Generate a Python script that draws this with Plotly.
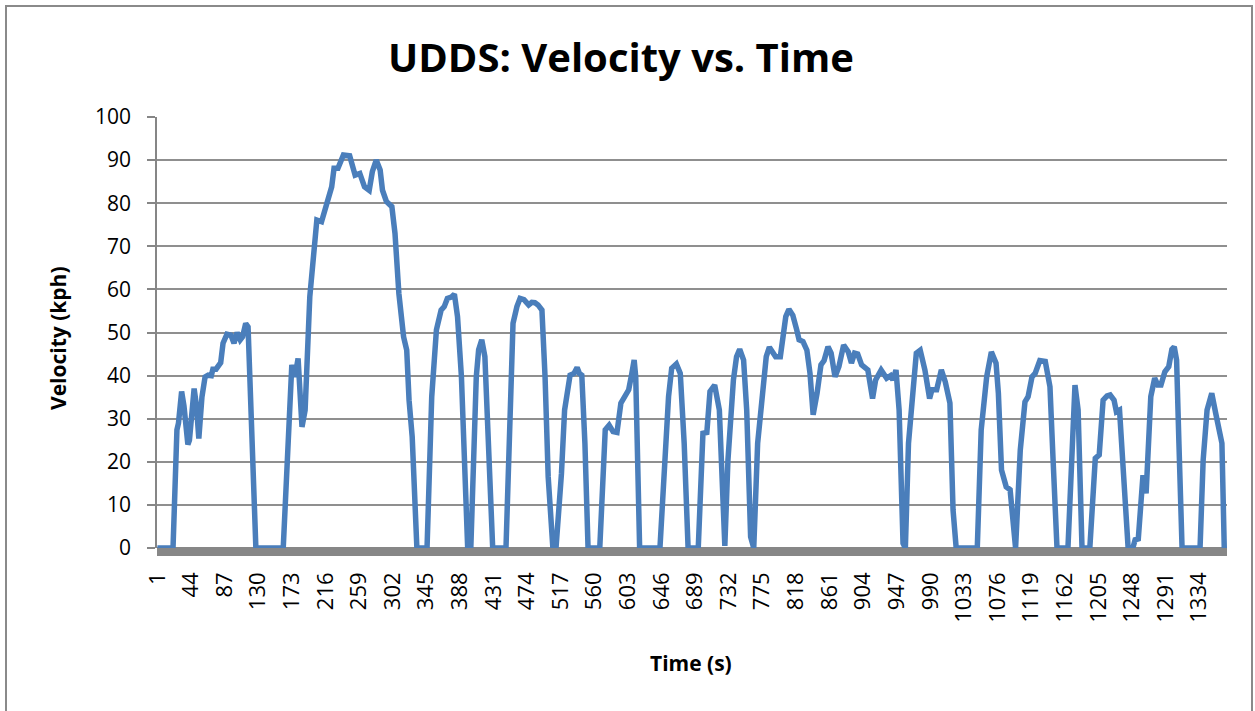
import plotly.graph_objects as go

# Keypoints (time in s, velocity in kph)
time_s = [1, 21, 26, 28, 32, 35, 40, 42, 48, 51, 54, 58, 62, 66, 70, 72, 76, 79, 82, 85,
          90, 95, 99, 103, 107, 110, 114, 117, 124, 127, 162, 173, 177, 181, 186, 190, 196, 200, 205, 211,
          216, 224, 227, 232, 239, 247, 254, 260, 266, 272, 276, 281, 286, 289, 294, 301, 305, 310, 316, 320,
          323, 327, 333, 346, 352, 358, 364, 368, 372, 377, 381, 385, 390, 398, 402, 409, 412, 416, 420, 424,
          430, 447, 452, 456, 461, 465, 470, 476, 480, 484, 488, 493, 497, 501, 507, 511, 518, 522, 529, 534,
          538, 541, 544, 548, 552, 567, 574, 579, 584, 589, 594, 599, 604, 608, 611, 613, 618, 644, 650, 655,
          659, 665, 670, 675, 680, 693, 699, 704, 708, 714, 720, 724, 727, 731, 738, 742, 746, 751, 755, 760,
          764, 769, 772, 776, 780, 784, 789, 792, 798, 802, 805, 809, 814, 819, 822, 827, 832, 836, 840, 845,
          850, 854, 859, 863, 868, 873, 879, 885, 889, 893, 897, 902, 910, 916, 920, 927, 934, 939, 942, 946,
          950, 955, 958, 962, 966, 972, 977, 983, 989, 992, 998, 1004, 1009, 1015, 1019, 1023, 1050, 1055, 1062, 1068,
          1074, 1077, 1081, 1087, 1092, 1095, 1099, 1105, 1111, 1115, 1120, 1124, 1130, 1137, 1143, 1147, 1152, 1166, 1171, 1175,
          1179, 1184, 1194, 1201, 1206, 1211, 1216, 1220, 1225, 1228, 1232, 1237, 1241, 1243, 1249, 1252, 1256, 1260, 1262, 1266,
          1269, 1272, 1277, 1281, 1285, 1290, 1295, 1299, 1302, 1305, 1308, 1312, 1335, 1339, 1344, 1350, 1355, 1363, 1366, 1369]
velocity_kph = [0, 0, 27.4, 29, 36.3, 33, 24, 25, 37, 33, 25.4, 35, 39.7, 40.1, 40, 41.5, 41.5, 42.1, 43, 47.5,
                49.6, 49.4, 47.5, 50, 48.3, 49, 52.1, 51.3, 16.5, 0, 0, 42.5, 39.7, 44, 28.1, 32, 58.3, 66.8, 76.1, 75.7,
                79, 83.8, 88.1, 88.1, 91.2, 91, 86.5, 86.9, 83.8, 83, 87.3, 90, 87.7, 83, 80.4, 79.2, 73, 59, 49, 45.9,
                34.3, 25.8, 0, 0, 35.1, 50.6, 55.2, 56, 57.9, 58.2, 58.9, 53.7, 39.7, 0, 0, 39.7, 46, 48.3, 44.4, 28.1,
                0, 0, 32, 52.1, 56, 57.9, 57.6, 56.4, 57, 56.9, 56.4, 55.2, 39.7, 16.5, 0, 0, 17.3, 32, 40.1, 40.5,
                41.9, 40.5, 40.1, 24.3, 0, 0, 27.4, 28.5, 27, 26.8, 33.6, 35.5, 36.7, 40.5, 43.6, 39.7, 0, 0, 20.4, 35.1,
                41.7, 42.7, 40.5, 24.3, 0, 0, 26.6, 26.8, 36.3, 37.8, 32, 10.4, 0.5, 20.4, 39, 44.4, 46.1, 43.6, 32, 2.6,
                0, 24.3, 30.5, 38.2, 44.4, 46.6, 45.5, 44.4, 44.4, 49, 53.7, 55.4, 54, 50.6, 48.3, 47.9, 45.9, 40.5, 30.9, 35.9,
                42.5, 43.5, 46.7, 45.2, 39.7, 42.1, 47.1, 45.5, 42.9, 45.2, 45, 42.5, 41.3, 34.7, 39, 41.3, 39.4, 40, 39, 41.3,
                32, 1.1, 0, 24.3, 34.3, 45.2, 45.9, 41.3, 34.7, 36.7, 36.7, 41.3, 38.6, 33.6, 8.8, 0, 0, 27.4, 39.7, 45.5,
                42.9, 35.9, 18.1, 14.2, 13.5, 7.3, 0, 22.7, 33.9, 35.1, 39.7, 40.5, 43.5, 43.3, 37.4, 20.4, 0, 0, 24.3, 37.8,
                32, 0, 0, 20.8, 21.6, 34.3, 35.3, 35.5, 34.3, 31.6, 32, 16.5, 2.6, 0, 0, 1.9, 2.1, 12.7, 16.9, 12.7,
                24.3, 35.1, 39.4, 37.8, 37.8, 40.9, 42.1, 46.1, 46.7, 43.6, 24.3, 0, 0, 20.4, 32, 35.9, 31.3, 24.3, 0, 0]

x_ticks = list(range(1, 1370, 43))
y_ticks = [0, 10, 20, 30, 40, 50, 60, 70, 80, 90, 100]

W, H = 1255, 711
L, R, T, B = 157, 1227, 117, 548
PW, PH = R - L, B - T


def px(x):
    return (x - L) / PW


def py(y):
    return (B - y) / PH


fig = go.Figure()
fig.add_trace(go.Scatter(
    x=time_s, y=velocity_kph, mode="lines",
    line=dict(color="#4A7EBB", width=5.5),
    showlegend=False, hoverinfo="x+y",
))

fig.update_layout(
    width=W, height=H,
    margin=dict(l=L, r=W - R, t=T, b=H - B, pad=0),
    paper_bgcolor="white", plot_bgcolor="white",
    font=dict(family="Open Sans, Liberation Sans, sans-serif", color="black"),
    xaxis=dict(
        range=[0.5, 1369.5], tickvals=x_ticks, ticktext=[str(v) for v in x_ticks],
        tickangle=-90, showgrid=False, zeroline=False, showline=False,
        ticks="", tickfont=dict(size=22, family="Open Sans"), ticklabelstandoff=19,
    ),
    yaxis=dict(
        range=[0, 100], tickvals=y_ticks, showgrid=True, gridcolor="#8f8f8f", gridwidth=2,
        zeroline=False, showline=True, linecolor="#868686", linewidth=1.5,
        ticks="outside", ticklen=8, tickcolor="#868686", tickwidth=1.5,
        tickfont=dict(size=21, family="Open Sans"), ticklabelstandoff=12,
    ),
    shapes=[
        dict(type="line", xref="paper", yref="paper", x0=0, x1=1,
             y0=py(551.5), y1=py(551.5), line=dict(color="#878787", width=9), layer="between"),
        dict(type="rect", xref="paper", yref="paper", x0=px(6), x1=px(1252),
             y0=py(716), y1=py(6), line=dict(color="#8a8a8a", width=2), layer="below"),
    ],
    annotations=[
        dict(text="<b>UDDS: Velocity vs. Time</b>", xref="paper", yref="paper",
             x=px(621), y=py(56), xanchor="center", yanchor="middle", showarrow=False,
             font=dict(size=40, family="Open Sans", color="black")),
        dict(text="<b>Velocity (kph)</b>", xref="paper", yref="paper",
             x=px(58), y=py(338), xanchor="center", yanchor="middle", showarrow=False,
             textangle=-90, font=dict(size=21, family="Open Sans", color="black")),
        dict(text="<b>Time (s)</b>", xref="paper", yref="paper",
             x=px(691), y=py(663), xanchor="center", yanchor="middle", showarrow=False,
             font=dict(size=21, family="Open Sans", color="black")),
    ],
)

fig.write_html(
    "out.html",
    config={"displayModeBar": False},
    post_script="document.body.style.margin='0';document.body.style.overflow='hidden';",
)
